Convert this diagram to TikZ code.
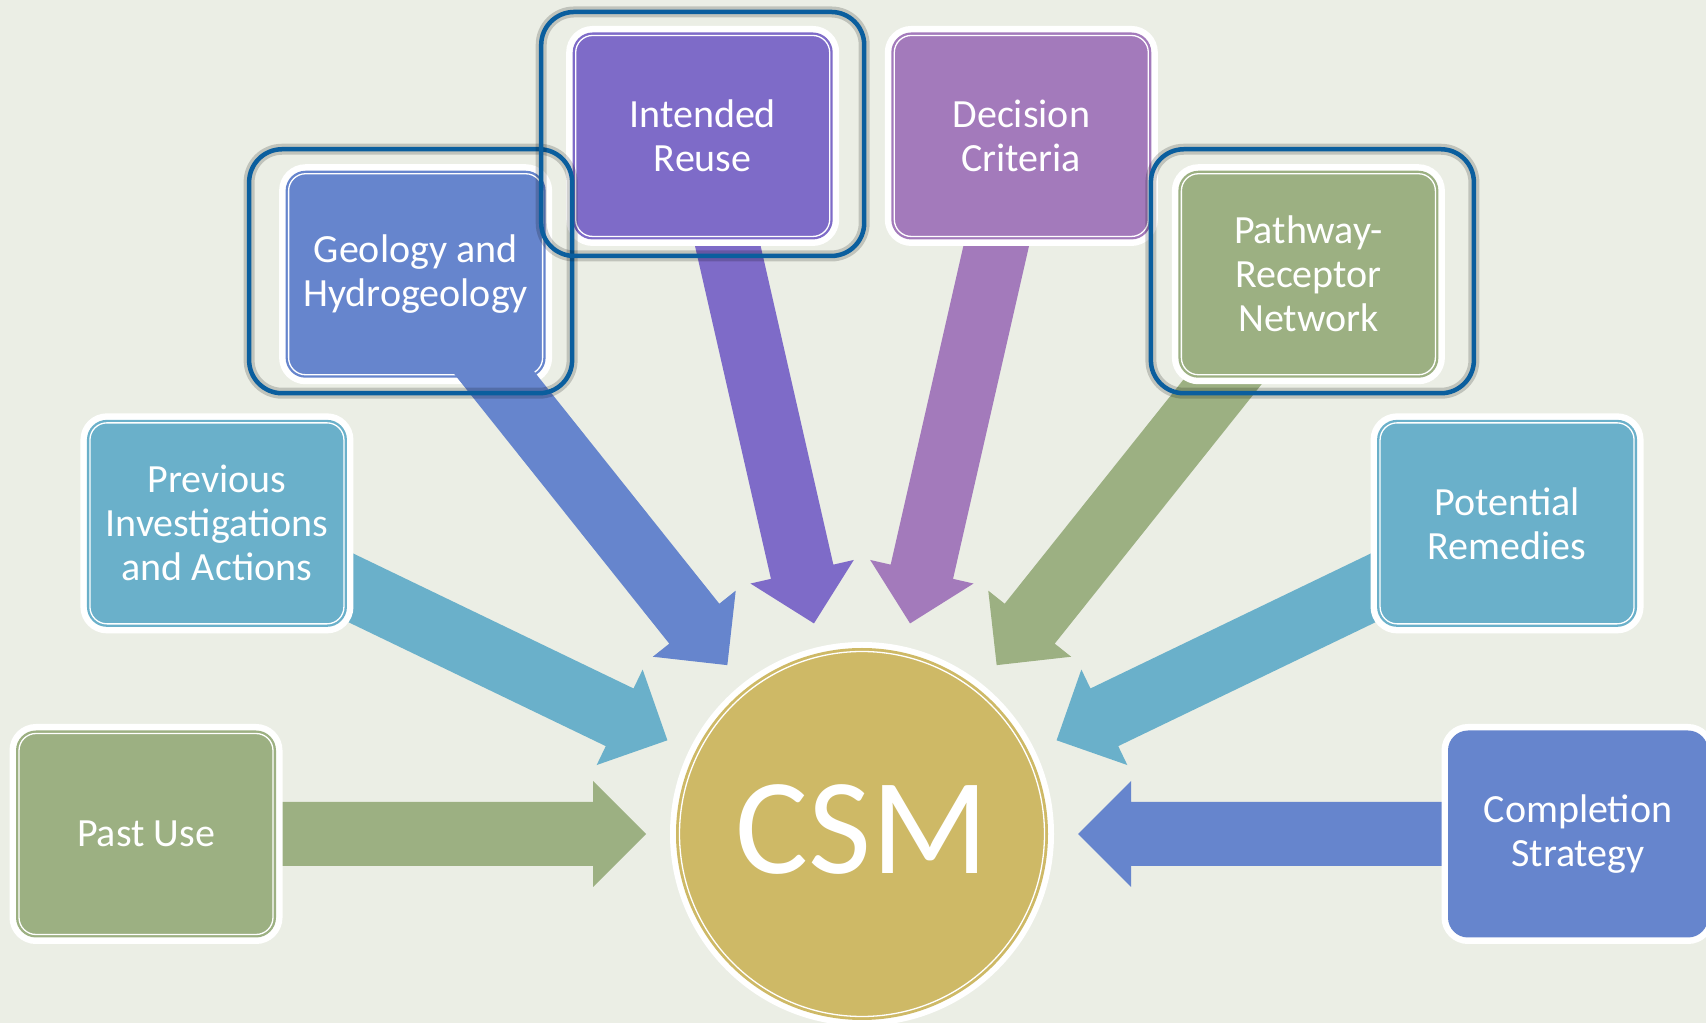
\documentclass[tikz,border=0pt]{standalone}
\usepackage{fontspec}
\setmainfont{Carlito}
\usetikzlibrary{calc}
\definecolor{bgc}{HTML}{EBEEE5}
\definecolor{cgreen}{HTML}{9CB082}
\definecolor{clblue}{HTML}{6AB0CA}
\definecolor{cblue}{HTML}{6685CD}
\definecolor{cpurple}{HTML}{7E6BC8}
\definecolor{cmauve}{HTML}{A37ABB}
\definecolor{cgold}{HTML}{CEB966}
\definecolor{hlblue}{HTML}{0A5E9E}
\pgfdeclarelayer{back}
\pgfdeclarelayer{arrowlayer}
\pgfdeclarelayer{front}
\pgfsetlayers{back,arrowlayer,main,front}
\newcommand\blockarrow[3]{%
  \coordinate (tip#1) at ($(csm.center)!216pt!(#1.center)$);
  \coordinate (hb#1) at ($(csm.center)!269pt!(#1.center)$);
  \coordinate (tl#1) at ($(csm.center)!#3!(#1.center)$);
  \fill[#2] (tip#1) -- ($(hb#1)!53pt!90:(csm.center)$) -- ($(hb#1)!32pt!90:(csm.center)$)
    -- ($(tl#1)!32pt!90:(csm.center)$) -- ($(tl#1)!32pt!-90:(csm.center)$)
    -- ($(hb#1)!32pt!-90:(csm.center)$) -- ($(hb#1)!53pt!-90:(csm.center)$) -- cycle;
}
\newcommand\innerline[1]{%
  \draw[white, line width=1.3pt, rounded corners=17pt]
    ($(#1.south west)+(3,3)$) rectangle ($(#1.north east)+(-3,-3)$);
}
\begin{document}
\begin{tikzpicture}[x=1pt,y=1pt,
  cbox/.style={rectangle, rounded corners=20pt, minimum width=260pt, minimum height=207pt,
    inner sep=0pt, outer sep=0pt, text=white, align=center,
    font=\fontsize{40}{44}\selectfont, preaction={draw=white, line width=13pt}},
  hl/.style={rectangle, rounded corners=33pt, draw=hlblue, line width=4.5pt,
    minimum width=323pt, minimum height=244pt, inner sep=0pt,
    preaction={draw=black, draw opacity=0.18, line width=11pt}}]
\begin{pgfonlayer}{back}
\fill[bgc] (0,0) rectangle (1706,1023);
\end{pgfonlayer}
\useasboundingbox (0,0) rectangle (1706,1023);

% centre
\node[circle, minimum size=372pt, inner sep=0pt, fill=cgold,
  preaction={draw=white, line width=12pt}] (csm) at (862,189) {};
\draw[white, line width=1.3pt] (csm.center) circle[radius=182.5];
\node[text=white, font=\fontsize{137}{137}\selectfont, inner sep=0pt] (csmtext) at (862,193) {CSM};

% boxes
\node[cbox, fill=cgreen] (past) at ($(csm.center)+(180:716)$) {Past Use};
\node[cbox, fill=clblue] (prev) at ($(csm.center)+(154.286:716)$) {Previous\\Investigations\\and Actions};
\node[cbox, fill=cblue] (geo) at ($(csm.center)+(128.571:716)$) {Geology and\\Hydrogeology};
\node[cbox, fill=cpurple] (reuse) at ($(csm.center)+(102.857:716)$) {Intended\\Reuse};
\node[cbox, fill=cmauve] (crit) at ($(csm.center)+(77.143:716)$) {Decision\\Criteria};
\node[cbox, fill=cgreen] (pathw) at ($(csm.center)+(51.429:716)$) {Pathway-\\Receptor\\Network};
\node[cbox, fill=clblue] (rem) at ($(csm.center)+(25.714:716)$) {Potential\\Remedies};
\node[cbox, fill=cblue, preaction={draw=white, line width=10pt}] (comp) at ($(csm.center)+(0:716)$) {Completion\\Strategy};
\foreach \b in {past,prev,geo,reuse,crit,pathw,rem}{\innerline{\b}}

% arrows
\begin{pgfonlayer}{arrowlayer}
\blockarrow{past}{cgreen}{716pt}
\blockarrow{prev}{clblue}{716pt}
\blockarrow{reuse}{cpurple}{716pt}
\blockarrow{crit}{cmauve}{716pt}
\blockarrow{pathw}{cgreen}{716pt}
\blockarrow{rem}{clblue}{716pt}
\blockarrow{comp}{cblue}{716pt}
\end{pgfonlayer}

\begin{pgfonlayer}{front}
\blockarrow{geo}{cblue}{640pt}
\node[hl] (hlgeo) at ($(geo.center)+(-5,3)$) {};
\node[hl] (hlreuse) at ($(reuse.center)+(0,2)$) {};
\node[hl] (hlpath) at ($(pathw.center)+(4,3)$) {};
\end{pgfonlayer}
\end{tikzpicture}
\end{document}
